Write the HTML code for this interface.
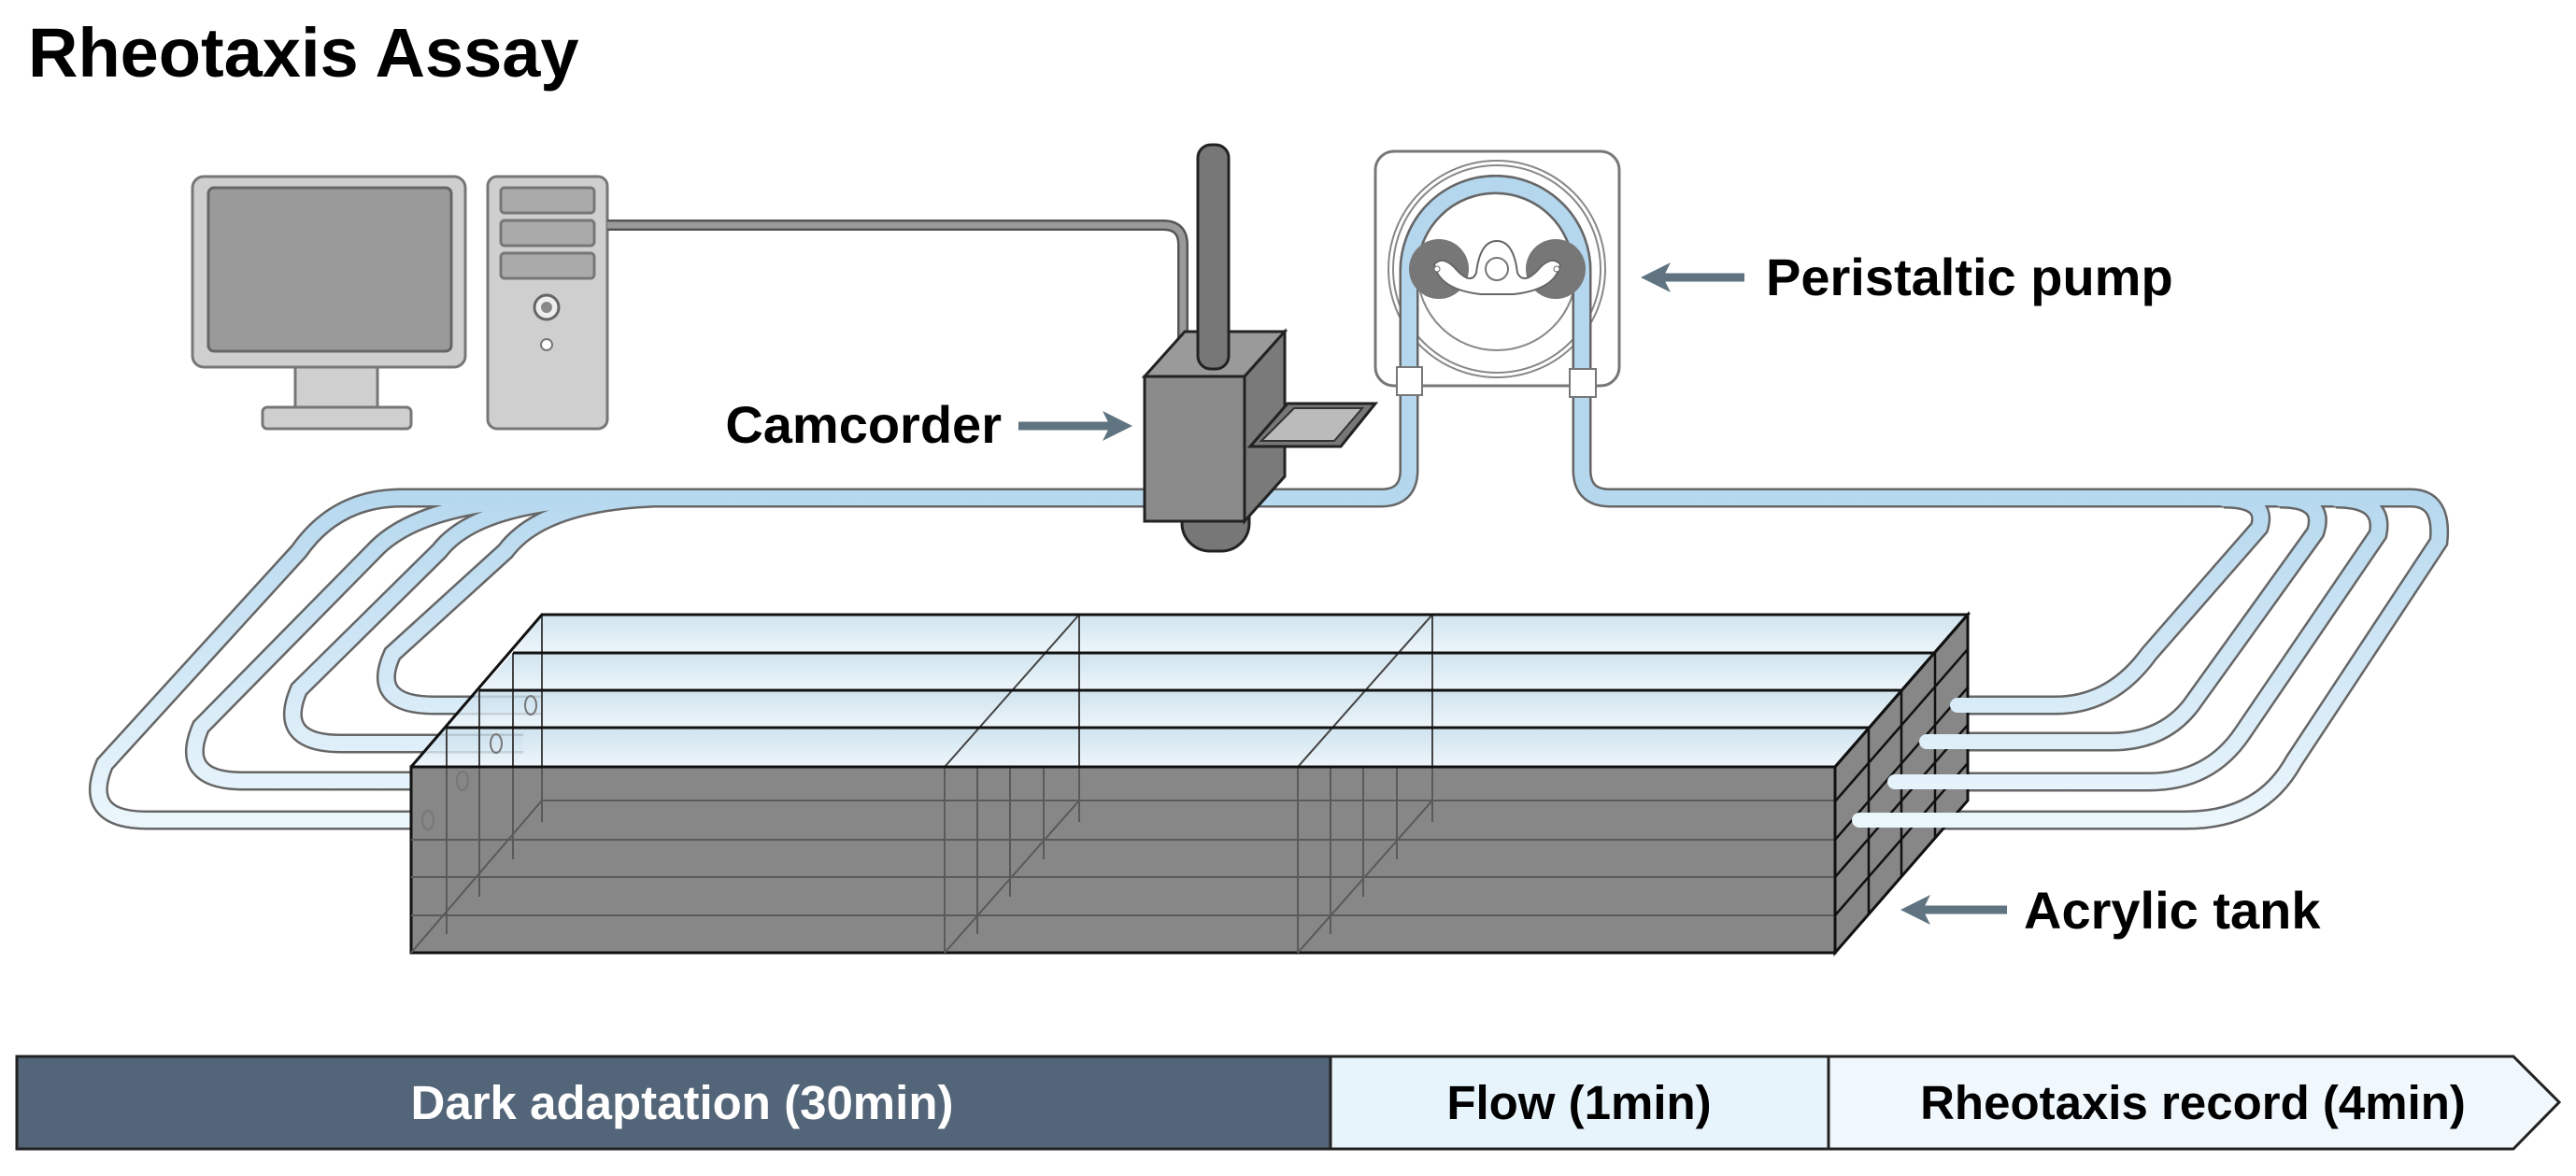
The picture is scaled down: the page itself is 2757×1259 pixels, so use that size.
<!DOCTYPE html>
<html><head><meta charset="utf-8"><style>
html,body{margin:0;padding:0;background:#fff;}
svg{display:block;}
text{font-family:"Liberation Sans",Arial,sans-serif;font-weight:bold;}
</style></head><body>
<svg width="2757" height="1259" viewBox="0 0 2757 1259" xmlns="http://www.w3.org/2000/svg">
<defs>
<linearGradient id="tg" gradientUnits="userSpaceOnUse" x1="0" y1="520" x2="0" y2="890">
<stop offset="0" stop-color="#b4d7ee"/><stop offset="1" stop-color="#edf7fd"/></linearGradient>
<linearGradient id="wg" x1="0" y1="0" x2="0" y2="1">
<stop offset="0" stop-color="#c3dcea"/><stop offset="1" stop-color="#e9f3f9"/></linearGradient>
</defs>
<text x="30" y="82" font-size="74" fill="#000">Rheotaxis Assay</text>

<!-- Monitor -->
<rect x="206" y="189" width="292" height="204" rx="12" fill="#cfcfcf" stroke="#777" stroke-width="3"/>
<rect x="223" y="201" width="260" height="175" rx="6" fill="#9a9a9a" stroke="#666" stroke-width="3"/>
<path d="M316 393 L404 393 L404 438 L316 438 Z" fill="#cfcfcf" stroke="#777" stroke-width="3"/>
<rect x="281" y="436" width="159" height="23" rx="5" fill="#cfcfcf" stroke="#777" stroke-width="3"/>
<!-- Tower -->
<rect x="522" y="189" width="128" height="270" rx="10" fill="#cfcfcf" stroke="#777" stroke-width="3"/>
<rect x="536" y="201" width="100" height="27" rx="4" fill="#aaa" stroke="#777" stroke-width="3"/>
<rect x="536" y="236" width="100" height="27" rx="4" fill="#aaa" stroke="#777" stroke-width="3"/>
<rect x="536" y="271" width="100" height="27" rx="4" fill="#aaa" stroke="#777" stroke-width="3"/>
<circle cx="585" cy="329" r="13" fill="#eee" stroke="#666" stroke-width="3"/>
<circle cx="585" cy="329" r="6" fill="#888"/>
<circle cx="585" cy="369" r="6" fill="#fff" stroke="#777" stroke-width="2"/>
<!-- cable -->
<path d="M650 241 L1245 241 Q1266 241 1266 262 L1266 390" fill="none" stroke="#555" stroke-width="12"/>
<path d="M650 241 L1245 241 Q1266 241 1266 262 L1266 390" fill="none" stroke="#9a9a9a" stroke-width="7"/>

<!-- Left tubes (behind tank) -->
<g fill="none" stroke-linecap="butt">
<g stroke="#666" stroke-width="21">
<path d="M1480 533 L430 533 Q360 533 320 590 L112 818 Q87 878 157 878 L560 878"/>
<path d="M600 533 Q450 536 400 590 L215 778 Q190 836 260 836 L560 836"/>
<path d="M650 533 Q510 538 470 590 L320 738 Q295 796 365 796 L560 796"/>
<path d="M700 533 Q580 538 541 590 L420 700 Q395 755 465 755 L580 755"/>
</g>
<g stroke="url(#tg)" stroke-width="16">
<path d="M1480 533 L430 533 Q360 533 320 590 L112 818 Q87 878 157 878 L560 878"/>
<path d="M600 533 Q450 536 400 590 L215 778 Q190 836 260 836 L560 836"/>
<path d="M650 533 Q510 538 470 590 L320 738 Q295 796 365 796 L560 796"/>
<path d="M700 533 Q580 538 541 590 L420 700 Q395 755 465 755 L580 755"/>
</g>
<path d="M1330 533 L1478 533 Q1508 533 1508 503 L1508 290 A92.5 92.5 0 0 1 1693 290 L1693 503 Q1693 533 1723 533 L2580 533 Q2615 533 2610 580 L2455 815 Q2420 878 2340 878 L1990 878" stroke="#666" stroke-width="21"/>
<path d="M2380 534 Q2428 534 2418 565 L2300 700 Q2260 755 2200 755 L2095 755" stroke="#666" stroke-width="21"/>
<path d="M2440 534 Q2490 534 2478 570 L2345 755 Q2315 794 2260 794 L2062 794" stroke="#666" stroke-width="21"/>
<path d="M2500 534 Q2553 534 2545 572 L2400 785 Q2365 837 2300 837 L2028 837" stroke="#666" stroke-width="21"/>
</g>

<!-- Tank -->
<g stroke-linejoin="miter">
<polygon points="580,658 2106,658 2071,699 549,699" fill="url(#wg)" fill-opacity="0.8"/>
<polygon points="549,699 2071,699 2035,739 513,739" fill="url(#wg)" fill-opacity="0.8"/>
<polygon points="513,739 2035,739 2000,779 478,779" fill="url(#wg)" fill-opacity="0.8"/>
<polygon points="478,779 2000,779 1964,821 440,821" fill="url(#wg)" fill-opacity="0.8"/>
<g stroke="#444" stroke-width="2" fill="none">
<line x1="1155" y1="658" x2="1011" y2="821"/><line x1="1155" y1="658" x2="1155" y2="857"/>
<line x1="1533" y1="658" x2="1389" y2="821"/><line x1="1533" y1="658" x2="1533" y2="857"/>
<line x1="580" y1="658" x2="580" y2="857"/>
<line x1="549" y1="699" x2="549" y2="821"/><line x1="513" y1="739" x2="513" y2="821"/><line x1="478" y1="779" x2="478" y2="821"/>
</g>
<rect x="440" y="821" width="1524" height="199" fill="#878787" stroke="#111" stroke-width="3"/>
<g stroke="#5a5a5a" stroke-width="2" fill="none">
<line x1="440" y1="1020" x2="580" y2="857"/>
<line x1="580" y1="857" x2="1964" y2="857"/>
<line x1="440" y1="899" x2="1964" y2="899"/><line x1="440" y1="939" x2="1964" y2="939"/><line x1="440" y1="980" x2="1964" y2="980"/>
<line x1="478" y1="821" x2="478" y2="1000"/><line x1="513" y1="821" x2="513" y2="960"/><line x1="549" y1="821" x2="549" y2="920"/><line x1="580" y1="821" x2="580" y2="880"/>
<line x1="1011" y1="821" x2="1011" y2="1020"/><line x1="1046" y1="821" x2="1046" y2="1000"/><line x1="1081" y1="821" x2="1081" y2="960"/><line x1="1117" y1="821" x2="1117" y2="920"/><line x1="1155" y1="821" x2="1155" y2="880"/>
<line x1="1011" y1="1020" x2="1155" y2="857"/>
<line x1="1389" y1="821" x2="1389" y2="1020"/><line x1="1424" y1="821" x2="1424" y2="1000"/><line x1="1459" y1="821" x2="1459" y2="960"/><line x1="1495" y1="821" x2="1495" y2="920"/><line x1="1533" y1="821" x2="1533" y2="880"/>
<line x1="1389" y1="1020" x2="1533" y2="857"/>
</g>
<g fill="none" stroke="#777" stroke-width="2"><ellipse cx="458" cy="878" rx="6" ry="10"/><ellipse cx="495" cy="836" rx="6" ry="10"/><ellipse cx="531" cy="796" rx="6" ry="10"/><ellipse cx="568" cy="755" rx="6" ry="10"/></g>
<polygon points="1964,821 2106,658 2106,857 1964,1020" fill="#878787" stroke="#111" stroke-width="3"/>
<g stroke="#111" stroke-width="2.5">
<line x1="2000" y1="779" x2="2000" y2="979"/><line x1="2035" y1="739" x2="2035" y2="938"/><line x1="2071" y1="699" x2="2071" y2="898"/>
<line x1="1964" y1="858" x2="2106" y2="695"/><line x1="1964" y1="899" x2="2106" y2="736"/><line x1="1964" y1="939" x2="2106" y2="776"/><line x1="1964" y1="980" x2="2106" y2="817"/>
</g>
<g stroke="#111" stroke-width="3" fill="none">
<polyline points="440,821 580,658 2106,658 1964,821"/>
<line x1="549" y1="699" x2="2071" y2="699"/><line x1="513" y1="739" x2="2035" y2="739"/><line x1="478" y1="779" x2="2000" y2="779"/><line x1="440" y1="821" x2="1964" y2="821"/>
</g>
</g>

<g fill="none">
<path d="M1330 533 L1478 533 Q1508 533 1508 503 L1508 290 A92.5 92.5 0 0 1 1693 290 L1693 503 Q1693 533 1723 533 L2580 533 Q2615 533 2610 580 L2455 815 Q2420 878 2340 878 L1990 878" stroke="url(#tg)" stroke-width="16" stroke-linecap="round"/>
<path d="M2380 534 Q2428 534 2418 565 L2300 700 Q2260 755 2200 755 L2095 755" stroke="url(#tg)" stroke-width="16" stroke-linecap="round"/>
<path d="M2440 534 Q2490 534 2478 570 L2345 755 Q2315 794 2260 794 L2062 794" stroke="url(#tg)" stroke-width="16" stroke-linecap="round"/>
<path d="M2500 534 Q2553 534 2545 572 L2400 785 Q2365 837 2300 837 L2028 837" stroke="url(#tg)" stroke-width="16" stroke-linecap="round"/>
</g>

<!-- Pump -->
<rect x="1472" y="162" width="261" height="251" rx="20" fill="none" stroke="#777" stroke-width="3"/>
<circle cx="1602" cy="288" r="116" fill="none" stroke="#888" stroke-width="2"/>
<circle cx="1602" cy="288" r="111" fill="none" stroke="#888" stroke-width="2"/>
<circle cx="1602" cy="290" r="85" fill="none" stroke="#888" stroke-width="2"/>
<path d="M1508 503 L1508 290 A92.5 92.5 0 0 1 1693 290 L1693 503" fill="none" stroke="#666" stroke-width="21"/>
<path d="M1508 503 L1508 290 A92.5 92.5 0 0 1 1693 290 L1693 503" fill="none" stroke="#b4d7ee" stroke-width="16"/>
<circle cx="1540" cy="288" r="32" fill="#777"/>
<circle cx="1665" cy="288" r="32" fill="#777"/>
<path d="M1535 283 Q1545 272 1560 290 Q1575 305 1580 292 Q1584 258 1602 258 Q1620 258 1624 292 Q1630 305 1645 290 Q1660 272 1670 283 Q1665 310 1620 315 L1585 315 Q1540 310 1535 283 Z" fill="#fff" stroke="#666" stroke-width="2"/>
<circle cx="1602" cy="288" r="12" fill="#fff" stroke="#777" stroke-width="2"/>
<circle cx="1538" cy="288" r="3" fill="#fff" stroke="#666"/><circle cx="1666" cy="288" r="3" fill="#fff" stroke="#666"/>
<rect x="1495" y="393" width="27" height="30" fill="#fff" stroke="#777" stroke-width="2"/>
<rect x="1680" y="395" width="28" height="30" fill="#fff" stroke="#777" stroke-width="2"/>

<!-- Camcorder -->
<rect x="1265" y="520" width="72" height="70" rx="30" fill="#777" stroke="#222" stroke-width="3"/>
<polygon points="1225,403 1332,403 1375,355 1268,355" fill="#9a9a9a" stroke="#222" stroke-width="3"/>
<polygon points="1332,403 1375,355 1375,510 1332,558" fill="#7a7a7a" stroke="#222" stroke-width="3"/>
<rect x="1225" y="403" width="107" height="155" fill="#8a8a8a" stroke="#222" stroke-width="3"/>
<rect x="1282" y="155" width="33" height="240" rx="14" fill="#777" stroke="#222" stroke-width="3"/>
<polygon points="1338,478 1435,478 1472,432 1378,432" fill="#777" stroke="#222" stroke-width="3"/>
<polygon points="1350,472 1428,472 1458,437 1385,437" fill="#bbb" stroke="#333" stroke-width="2"/>

<!-- Labels and arrows -->
<g stroke="#5f7380" stroke-width="9" fill="none">
<line x1="1090" y1="456" x2="1190" y2="456"/>
<line x1="1867" y1="297" x2="1778" y2="297"/>
<line x1="2148" y1="974" x2="2056" y2="974"/>
</g>
<g fill="#5f7380">
<polygon points="1212,456 1180,440 1188,456 1180,472"/>
<polygon points="1756,297 1788,281 1780,297 1788,313"/>
<polygon points="2034,974 2066,958 2058,974 2066,990"/>
</g>
<text x="1072" y="474" font-size="56" text-anchor="end">Camcorder</text>
<text x="1890" y="316" font-size="56">Peristaltic pump</text>
<text x="2166" y="994" font-size="56">Acrylic tank</text>

<!-- Timeline -->
<rect x="18" y="1131" width="1406" height="99" fill="#536578" stroke="#222" stroke-width="3"/>
<rect x="1424" y="1131" width="533" height="99" fill="#e8f4fc" stroke="#222" stroke-width="3"/>
<polygon points="1957,1131 2690,1131 2739,1180 2690,1230 1957,1230" fill="#f1f8fd" stroke="#222" stroke-width="3"/>
<text x="730" y="1198" font-size="51" fill="#fff" text-anchor="middle">Dark adaptation (30min)</text>
<text x="1690" y="1198" font-size="51" fill="#000" text-anchor="middle">Flow (1min)</text>
<text x="2347" y="1198" font-size="51" fill="#000" text-anchor="middle">Rheotaxis record (4min)</text>
</svg>
</body></html>
